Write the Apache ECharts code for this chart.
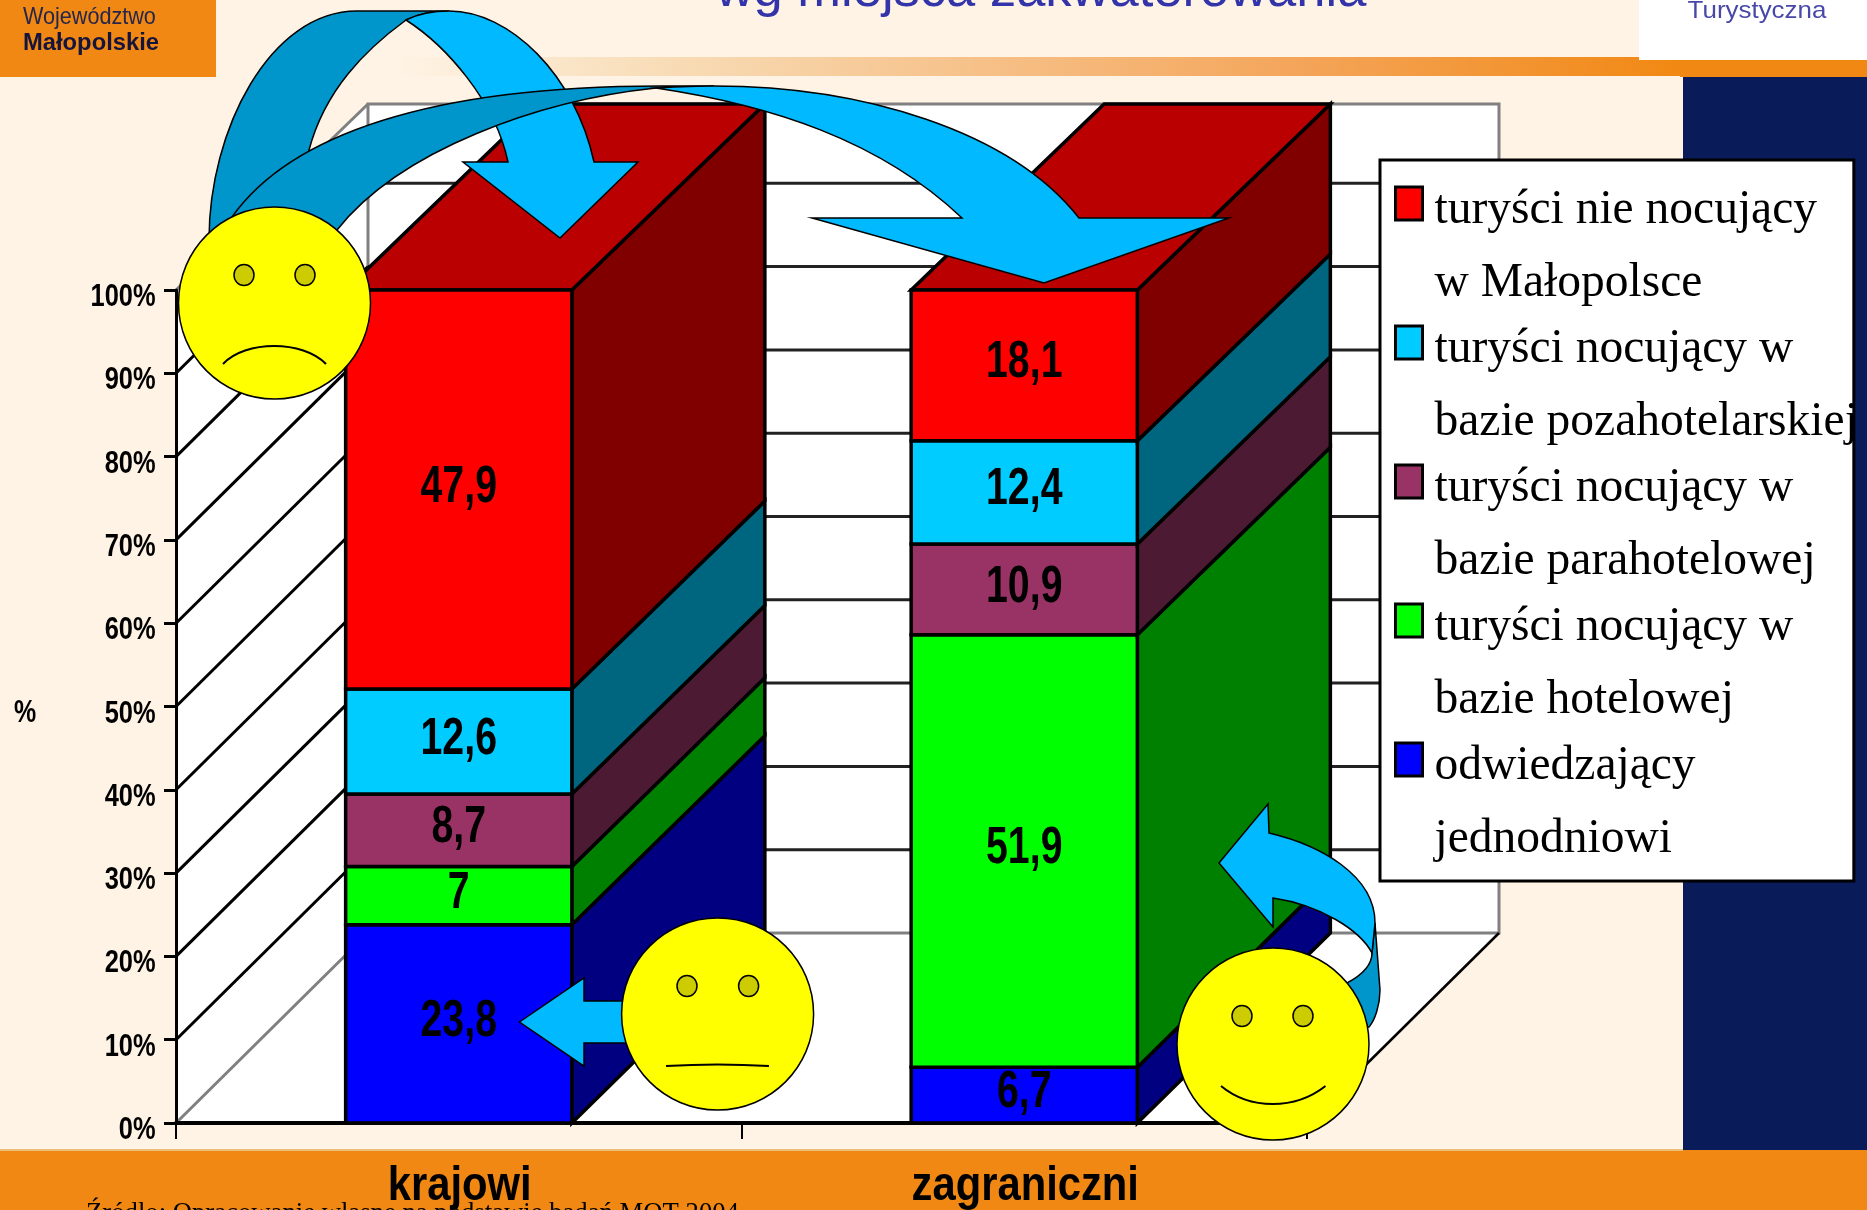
<!DOCTYPE html>
<html>
<head>
<meta charset="utf-8">
<style>html,body{margin:0;padding:0;background:#FEF3E4}#c{width:1867px;height:1210px}</style>
<script src="https://cdn.jsdelivr.net/npm/echarts@6/dist/echarts.min.js"></script>
</head>
<body>
<div id="c"></div>
<script>
const categories = ['krajowi', 'zagraniczni'];
const valuesHotelOther = [23.8, 6.7];
const valuesHotel = [7, 51.9];
const valuesPara = [8.7, 10.9];
const valuesPoza = [12.6, 12.4];
const valuesNoStay = [47.9, 18.1];
const yTicks = [0, 10, 20, 30, 40, 50, 60, 70, 80, 90, 100];
const nameBlue = 'odwiedzający jednodniowi';
const nameGreen = 'turyści nocujący w bazie hotelowej';
const namePurple = 'turyści nocujący w bazie parahotelowej';
const nameCyan = 'turyści nocujący w bazie pozahotelarskiej';
const nameRed = 'turyści nie nocujący w Małopolsce';
const legendOrder = [nameRed, nameCyan, namePurple, nameGreen, nameBlue];
const legendLines = {
  [nameRed]: 'turyści nie nocujący\nw Małopolsce',
  [nameCyan]: 'turyści nocujący w\nbazie pozahotelarskiej',
  [namePurple]: 'turyści nocujący w\nbazie parahotelowej',
  [nameGreen]: 'turyści nocujący w\nbazie hotelowej',
  [nameBlue]: 'odwiedzający\njednodniowi'
};

const stackDefs = [
  {name: nameBlue, values: valuesHotelOther, front: '#0000FF', side: '#000080'},
  {name: nameGreen, values: valuesHotel, front: '#00FF00', side: '#008000'},
  {name: namePurple, values: valuesPara, front: '#993366', side: '#4D1A33'},
  {name: nameCyan, values: valuesPoza, front: '#00CCFF', side: '#006680'},
  {name: nameRed, values: valuesNoStay, front: '#FF0000', side: '#800000', top: '#BA0000'}
];

const DX = 193;
const dyAt = v => 190 - 4 * v / 100;
const dyGrid = v => (v < 100 ? 190 : 186);
const SANS = '"Liberation Sans",Arial,sans-serif';
const BLK = {stroke: '#000', lineWidth: 3.5};

const fmt = v => String(v).replace('.', ',');

function squeezed(text, x, y, size, scaleX, align, extra) {
  return {
    type: 'text', x: x, y: y, scaleX: scaleX, z2: 5,
    style: Object.assign({text: text, x: 0, y: 0, fill: '#000', font: 'bold ' + size + 'px ' + SANS,
      align: align, verticalAlign: 'middle'}, extra || {})
  };
}

function barSeries(def, idx) {
  const data = categories.map((c, i) => {
    let base = 0;
    for (let k = 0; k < idx; k++) base += stackDefs[k].values[i];
    return [i, base, base + def.values[i], def.values[i]];
  });
  return {
    type: 'custom', name: def.name, z: 2, silent: true,
    itemStyle: {color: def.front},
    encode: {x: 0, y: [1, 2]},
    data: data,
    renderItem(params, api) {
      const cat = api.value(0), lo = api.value(1), hi = api.value(2), val = api.value(3);
      const p0 = api.coord([cat, lo]), p1 = api.coord([cat, hi]);
      const w = api.size([1, 0])[0] * 0.4;
      const xl = p0[0] - w / 2, xr = p0[0] + w / 2;
      const d0 = dyAt(lo), d1 = dyAt(hi);
      const kids = [{
        type: 'polygon',
        shape: {points: [[xr, p0[1]], [xr + DX, p0[1] - d0], [xr + DX, p1[1] - d1], [xr, p1[1]]]},
        style: Object.assign({fill: def.side}, BLK)
      }];
      if (def.top) kids.push({
        type: 'polygon',
        shape: {points: [[xl, p1[1]], [xl + DX, p1[1] - d1], [xr + DX, p1[1] - d1], [xr, p1[1]]]},
        style: Object.assign({fill: def.top}, BLK)
      });
      kids.push({
        type: 'rect',
        shape: {x: xl, y: p1[1], width: w, height: p0[1] - p1[1]},
        style: Object.assign({fill: def.front}, BLK)
      });
      kids.push(squeezed(fmt(val), p0[0], (p0[1] + p1[1]) / 2 - 2, 51, 0.77, 'center'));
      return {type: 'group', children: kids};
    }
  };
}

function wallSeries() {
  return {
    type: 'custom', name: 'walls', z: -1, silent: true,
    encode: {x: 0, y: 1}, data: [[0, 0]],
    renderItem(params, api) {
      const x0 = params.coordSys.x, xw = x0 + params.coordSys.width;
      const dxw = 192;
      const yb = api.coord([0, 0])[1], yt = api.coord([0, 100])[1];
      const kids = [];
      kids.push({type: 'polygon', shape: {points: [[x0, yb], [x0, yt], [x0 + dxw, yt - dyGrid(100)], [x0 + dxw, yb - dyGrid(0)]]}, style: {fill: '#fff'}});
      kids.push({type: 'polygon', shape: {points: [[x0, yb], [xw, yb], [xw + dxw, yb - dyGrid(0)], [x0 + dxw, yb - dyGrid(0)]]}, style: {fill: '#fff'}});
      kids.push({type: 'rect', shape: {x: x0 + dxw, y: yt - dyGrid(100), width: xw - x0, height: yb - dyGrid(0) - yt + dyGrid(100)}, style: {fill: '#fff', stroke: '#808080', lineWidth: 3}});
      yTicks.forEach(v => {
        const y = api.coord([0, v])[1], d = dyGrid(v);
        const edge = v === 0 || v === 100;
        kids.push({type: 'line', shape: {x1: x0, y1: y, x2: x0 + dxw, y2: y - d}, style: {stroke: edge ? '#808080' : '#000', lineWidth: 3}});
        if (!edge) kids.push({type: 'line', shape: {x1: x0 + dxw, y1: y - d, x2: xw + dxw, y2: y - d}, style: {stroke: '#222', lineWidth: 3}});
      });
      kids.push({type: 'line', shape: {x1: xw, y1: yb, x2: xw + dxw, y2: yb - dyGrid(0)}, style: {stroke: '#000', lineWidth: 2.5}});
      return {type: 'group', children: kids};
    }
  };
}

function axisTextSeries() {
  return {
    type: 'custom', name: 'axis text', z: 3, silent: true,
    encode: {x: 0, y: 1}, data: [[0, 0]],
    renderItem(params, api) {
      const kids = [];
      yTicks.forEach(v => {
        kids.push(squeezed(v + '%', 155.6, api.coord([0, v])[1] + 7.5, 31, 0.82, 'right'));
      });
      categories.forEach((c, i) => {
        kids.push(squeezed(c, api.coord([i, 0])[0] + 1, 1187, 48, 0.87, 'center'));
      });
      kids.push(squeezed('%', 25, 713, 32, 0.78, 'center'));
      return {type: 'group', children: kids};
    }
  };
}

function bgSeries() {
  const plain = (text, x, y, font, fill, align, sx) => ({
    type: 'text', x: x, y: y, scaleX: sx,
    style: {text: text, x: 0, y: 0, fill: fill, font: font, align: align, verticalAlign: 'middle'}
  });
  return {
    type: 'custom', name: 'background', coordinateSystem: 'none', z: -2, silent: true,
    data: [[0]],
    renderItem() {
      const band = new echarts.graphic.LinearGradient(0, 0, 1, 0, [
        {offset: 0, color: '#FEF3E4'}, {offset: 0.2, color: '#F8DDB8'}, {offset: 0.7, color: '#F4A55A'}, {offset: 1, color: '#F18813'}
      ]);
      return {type: 'group', children: [
        {type: 'rect', shape: {x: 400, y: 57, width: 1280, height: 19}, style: {fill: band}},
        {type: 'rect', shape: {x: 1680, y: 60, width: 187, height: 17}, style: {fill: '#F18813'}},
        {type: 'rect', shape: {x: 1639, y: 0, width: 228, height: 60}, style: {fill: '#fff'}},
        {type: 'rect', shape: {x: 1683, y: 77, width: 184, height: 1073}, style: {fill: '#0A1B5A'}},
        {type: 'rect', shape: {x: 0, y: 0, width: 216, height: 77}, style: {fill: '#F18813'}},
        {type: 'rect', shape: {x: 0, y: 1150, width: 1867, height: 60}, style: {fill: '#F18813'}},
        {type: 'rect', shape: {x: 0, y: 1149, width: 1683, height: 2}, style: {fill: '#E8C07A'}},
        plain('Województwo', 23, 17, '24px "Liberation Sans"', '#26264A', 'left', 0.9),
        plain('Małopolskie', 23, 43, 'bold 24px "Liberation Sans"', '#14143C', 'left', 0.99),
        plain('Turystyczna', 1757, 11, '24px "Liberation Sans"', '#4848A8', 'center', 1.08),
        plain('Źródło: Opracowanie własne na podstawie badań MOT 2004', 86, 1214, '26.7px "Liberation Serif"', '#000', 'left', 1)
      ]};
    }
  };
}

function face(cx, cy, e1, e2, mouth) {
  const eye = x => ({type: 'ellipse', shape: {cx: x, cy: cy - 28, rx: 10, ry: 10.5}, style: {fill: '#CCCC00', stroke: '#000', lineWidth: 1.5}});
  return [
    {type: 'ellipse', shape: {cx, cy, rx: 96, ry: 96}, style: {fill: '#FFFF00', stroke: '#000', lineWidth: 1.5}},
    eye(e1), eye(e2),
    {type: 'path', shape: {pathData: mouth}, style: {fill: 'none', stroke: '#000', lineWidth: 2}}
  ];
}

function overlaySeries() {
  const A = {fill: '#00B9FF', stroke: '#000', lineWidth: 1.5};
  const D = {fill: '#0096CC', stroke: '#000', lineWidth: 1.5};
  const p = (d, s) => ({type: 'path', shape: {pathData: d}, style: s});
  return {
    type: 'custom', name: 'shapes', coordinateSystem: 'none', z: 20, silent: true,
    data: [[0]],
    renderItem() {
      return {type: 'group', children: [
        p('M209,240 C209,130 270,11 357,11 L449,11 C435,11 418,14 406,20 C365,50 325,90 309,150 L290,240 Z', D),
        p('M449,11 C510,11 575,75 594,162 L638,162 L560,238 L463,162 L508,162 C495,100 445,45 406,20 C418,14 435,11 449,11 Z', A),
        p('M232,217 C290,135 430,86 660,86 L714,86 C695,86 675,87 656,88 C540,100 400,150 337,230 L280,280 Z', D),
        p('M714,86 C860,86 1010,130 1079,218 L1229,218 L1044,283 L812,218 L962,218 C880,140 770,105 656,88 C675,87 695,86 714,86 Z', A),
        ...face(274.5, 303, 244, 305, 'M223,364 C245,340 303,340 326,364'),
        p('M519.5,1022 L584,978 L584,1001 L640,1001 L640,1043 L584,1043 L584,1066 Z', A),
        ...face(717.6, 1014, 687, 748.6, 'M666,1066 C700,1064 735,1064 769,1066'),
        p('M1375,923 L1380,990 C1380,1005 1375,1020 1369,1027 L1340,1030 L1347,983 C1362,975 1372,965 1372,953 Z', D),
        p('M1219,863 L1268,804 L1269,833 C1320,845 1375,875 1375,923 L1372,953 C1360,930 1320,905 1273,898 L1273,927 Z', A),
        ...face(1273, 1044, 1242, 1303, 'M1221,1086 C1250,1110 1295,1110 1325.5,1086')
      ]};
    }
  };
}

const chart = echarts.init(document.getElementById('c'), null, {width: 1867, height: 1210});
chart.setOption({
  animation: false,
  backgroundColor: '#FEF3E4',
  title: {
    text: 'wg miejsca zakwaterowania', left: 1041, top: -35, padding: 0, textAlign: 'center',
    textStyle: {color: '#3333AA', fontFamily: 'Liberation Sans', fontWeight: 'normal', fontSize: 52.5}
  },
  grid: {left: 176, right: 560, top: 290, bottom: 87, containLabel: false},
  xAxis: {
    type: 'category', data: categories,
    axisLine: {show: true, lineStyle: {color: '#000', width: 4}},
    axisTick: {show: true, length: 16, lineStyle: {color: '#000', width: 2}},
    axisLabel: {show: false}
  },
  yAxis: {
    type: 'value', min: 0, max: 100, interval: 10,
    axisLine: {show: true, lineStyle: {color: '#000', width: 3}},
    axisTick: {show: true, length: 12, lineStyle: {color: '#000', width: 3}},
    splitLine: {show: false},
    axisLabel: {show: false}
  },
  legend: {
    left: 1380, top: 160, orient: 'vertical', selectedMode: false,
    data: legendOrder,
    backgroundColor: '#fff', borderColor: '#000', borderWidth: 3,
    padding: [14, -4, 5, 14],
    itemWidth: 27, itemHeight: 140, itemGap: -7,
    icon: 'path://M0 0L0 0 M0 10H27V43H0Z M0 140L0 140',
    itemStyle: {borderColor: '#000', borderWidth: 3},
    formatter: n => legendLines[n],
    textStyle: {color: '#000', fontFamily: 'Liberation Serif', fontSize: 47.5, lineHeight: 73, padding: [0, 0, 0, 7]}
  },
  tooltip: {show: false},
  series: [bgSeries(), wallSeries(), ...stackDefs.map(barSeries), axisTextSeries(), overlaySeries()]
});
</script>
</body>
</html>
